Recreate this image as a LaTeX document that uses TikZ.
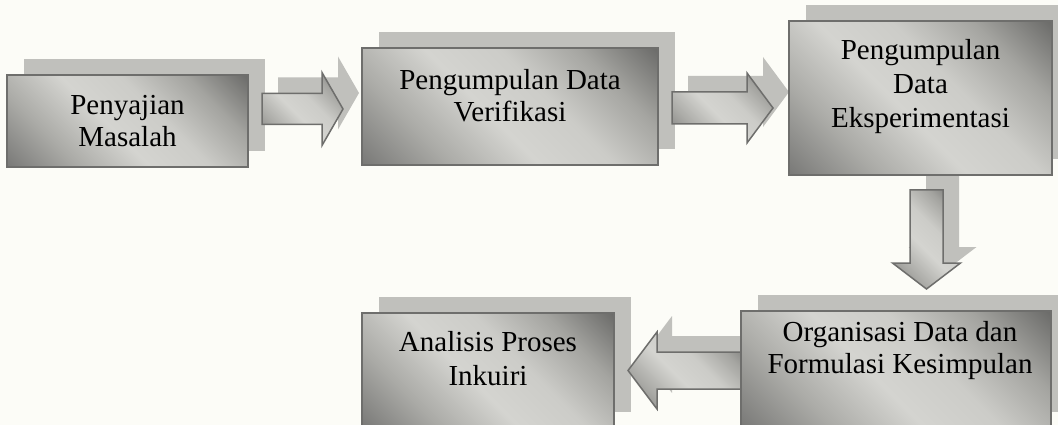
\documentclass[tikz,border=0pt]{standalone}
\usepackage{fontspec}
\setmainfont{Liberation Serif}
\definecolor{bgc}{HTML}{FCFCF7}
\definecolor{shadc}{HTML}{C0C0BC}
\definecolor{bordc}{HTML}{6E6E6C}
\definecolor{cdk}{HTML}{686866}
\definecolor{cdkb}{HTML}{7A7A78}
\definecolor{cmid}{HTML}{ABABA7}
\definecolor{clt}{HTML}{D4D4D0}
\definecolor{cltb}{HTML}{CCCCC8}
\definecolor{cmidb}{HTML}{A4A4A0}
\pgfdeclarehorizontalshading{chrome}{100bp}{color(0bp)=(cdk); color(15bp)=(cdkb); color(30bp)=(cmid); color(45bp)=(clt); color(58bp)=(cltb); color(72bp)=(cmidb); color(86bp)=(cdk); color(100bp)=(cdk)}
\tikzset{
  shadowbox/.style={rectangle, fill=shadc, draw=none, inner sep=0pt},
  frontbox/.style={rectangle, shade, shading=chrome, shading angle=45, draw=bordc, line width=1.5pt, inner sep=0pt},
  arrowshadow/.style={fill=shadc, draw=none},
  arrowfront/.style={shade, shading=chrome, shading angle=45, draw=bordc, line width=1.5pt, line join=miter},
  lbl/.style={anchor=base, inner sep=0pt, font=\fontsize{29}{33}\selectfont, text=black}
}
\begin{document}
\begin{tikzpicture}[x=1pt,y=-1pt]
\fill[bgc] (0,0) rectangle (1058,425);
\useasboundingbox (0,0) rectangle (1058,425);
\begin{scope}
\clip (0,0) rectangle (1058,425);
% box shadows
\node[shadowbox, minimum width=241pt, minimum height=92pt] (b1s) at (144,105) {};
\node[shadowbox, minimum width=296pt, minimum height=117pt] (b2s) at (526.5,90.5) {};
\node[shadowbox, minimum width=263pt, minimum height=154pt] (b3s) at (937,82) {};
\node[shadowbox, minimum width=310pt, minimum height=117pt] (b4s) at (912.5,353.5) {};
\node[shadowbox, minimum width=252pt, minimum height=115pt] (b5s) at (504.5,354.5) {};
% arrow shadows
\path[arrowshadow] (278,77.5) -- (338,77.5) -- (338,56.5) -- (359,93) -- (338,129.5) -- (338,108.5) -- (278,108.5) -- cycle;
\path[arrowshadow] (688,76) -- (763,76) -- (763,57) -- (789,92) -- (763,127) -- (763,108) -- (688,108) -- cycle;
\path[arrowshadow] (926,157) -- (926,247) -- (908.5,247) -- (942.5,273) -- (976.5,247) -- (959,247) -- (959,157) -- cycle;
\path[arrowshadow] (757,336) -- (672,336) -- (672,316) -- (643,354.5) -- (672,393) -- (672,373) -- (757,373) -- cycle;
% front arrows
\path[arrowfront] (262,93.5) -- (322,93.5) -- (322,72.5) -- (343,109) -- (322,145.5) -- (322,124.5) -- (262,124.5) -- cycle;
\path[arrowfront] (672,92) -- (747,92) -- (747,73) -- (773,108) -- (747,143) -- (747,124) -- (672,124) -- cycle;
\path[arrowfront] (910,190) -- (910,263) -- (892.5,263) -- (926.5,289) -- (960.5,263) -- (943,263) -- (943,190) -- cycle;
\path[arrowfront] (742,352) -- (657,352) -- (657,332) -- (628,370.5) -- (657,409) -- (657,389) -- (742,389) -- cycle;
% front boxes
\node[frontbox, minimum width=241pt, minimum height=92pt] (b1) at (127.5,121) {};
\node[frontbox, minimum width=296pt, minimum height=117pt] (b2) at (510,106.5) {};
\node[frontbox, minimum width=263pt, minimum height=154pt] (b3) at (920.5,98) {};
\node[frontbox, minimum width=310pt, minimum height=117pt] (b4) at (896,369.5) {};
\node[frontbox, minimum width=252pt, minimum height=115pt] (b5) at (488,370.5) {};
\end{scope}
% labels
\node[lbl] (t1a) at (127.5,115) {Penyajian};
\node[lbl] (t1b) at (127.5,147) {Masalah};
\node[lbl] (t2a) at (510,90) {Pengumpulan Data};
\node[lbl] (t2b) at (510,122) {Verifikasi};
\node[lbl] (t3a) at (920.5,59.5) {Pengumpulan};
\node[lbl] (t3b) at (920.5,93.5) {Data};
\node[lbl] (t3c) at (920.5,127.5) {Eksperimentasi};
\node[lbl] (t4a) at (900,341) {Organisasi Data dan};
\node[lbl] (t4b) at (900,373) {Formulasi Kesimpulan};
\node[lbl] (t5a) at (488,351) {Analisis Proses};
\node[lbl] (t5b) at (488,385.5) {Inkuiri};
\end{tikzpicture}
\end{document}
